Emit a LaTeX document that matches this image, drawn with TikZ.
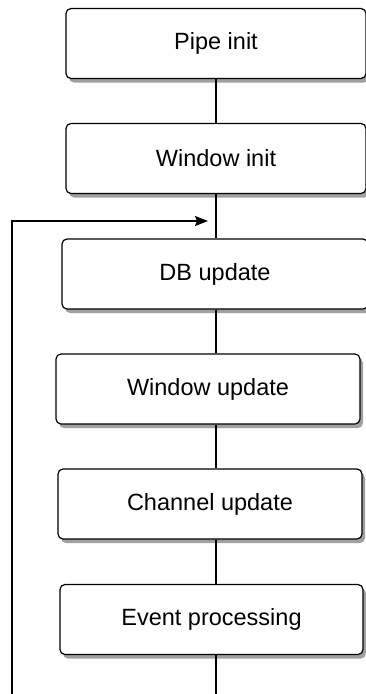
\documentclass[tikz,border=0pt]{standalone}
\usepackage{fontspec}
\setmainfont{Liberation Sans}
\usetikzlibrary{arrows.meta}
\definecolor{shadowgray}{RGB}{160,160,160}

\begin{document}
\begin{tikzpicture}[x=1pt,y=-1pt,line width=1.2pt,
   stage/.style={draw,rounded corners=5pt,fill=white,minimum height=70pt,
    font=\fontsize{23.5}{28}\selectfont},
   stageshadow/.style={fill=shadowgray,rounded corners=5pt,minimum height=70pt,inner sep=0pt}]
   \useasboundingbox (0,0) rectangle (365,694);
   \foreach \cx/\cy/\w in {216/43.5/300,216/158.5/300,215/274/306,
     208/389/304,210/504/304,211.5/619.5/303}
    \node[stageshadow,minimum width=\w pt] at (\cx+3,\cy+4) {};
   \node[stage,minimum width=300pt] (pipe)   at (216,43.5)  {Pipe init};
   \node[stage,minimum width=300pt] (win)    at (216,158.5) {Window init};
   \node[stage,minimum width=306pt] (db)     at (215,274)   {DB update};
   \node[stage,minimum width=304pt] (winup)  at (208,389)   {Window update};
   \node[stage,minimum width=304pt] (chan)   at (210,504)   {Channel update};
   \node[stage,minimum width=303pt] (event)  at (211.5,619.5) {Event processing};
   \coordinate (spine) at (216,0);
   \coordinate (bottom) at (216,694);
   \coordinate (loopend) at (12,694);
   \coordinate (looptip) at (208,221);
   \draw (pipe.south) -- (win.north);
   \draw (win.south) -- (spine |- db.north);
   \draw (spine |- db.south) -- (spine |- winup.north);
   \draw (spine |- winup.south) -- (spine |- chan.north);
   \draw (spine |- chan.south) -- (spine |- event.north);
   \draw (spine |- event.south) -- (bottom);
   \draw[-{Stealth[length=13pt,width=10pt,inset=2pt]}] (loopend) |- (looptip);
\end{tikzpicture}
\end{document}
